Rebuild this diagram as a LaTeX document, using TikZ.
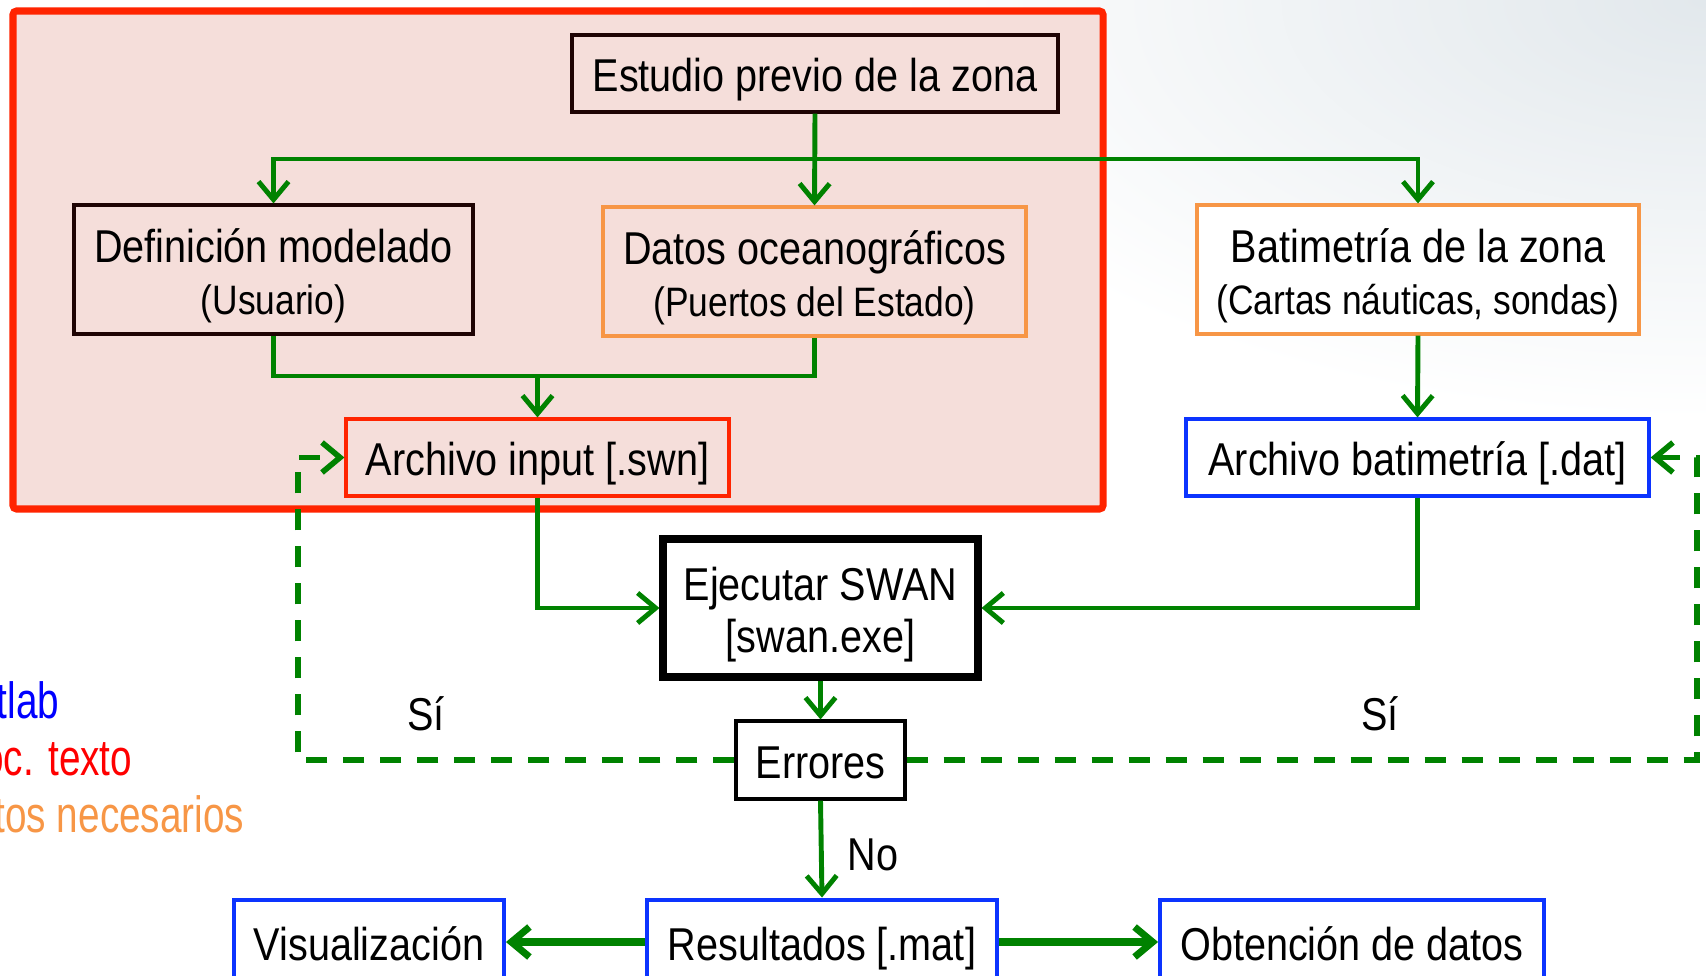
\documentclass[tikz,border=0pt]{standalone}
\usepackage{fontspec}
\setmainfont[FakeStretch=0.86]{Liberation Sans}
\newfontfamily\leyenda[FakeStretch=0.76]{Liberation Sans}
\usetikzlibrary{arrows.meta}

\definecolor{verde}{RGB}{0,130,0}
\definecolor{rojo}{RGB}{255,36,0}
\definecolor{naranja}{RGB}{247,150,70}
\definecolor{azul}{RGB}{12,52,255}
\definecolor{rosa}{RGB}{245,222,218}
\definecolor{negro}{RGB}{30,4,4}
\definecolor{niebla}{RGB}{226,232,236}

% struts para bajar el texto en las cajas
\newcommand\arriba{\rule{0pt}{1.05em}}
\newcommand\abajo{\rule[-0.25em]{0pt}{0pt}}
\newcommand\chica{\fontsize{11.7}{14}\selectfont}

\tikzset{
  caja/.style={draw=negro, line width=0.9pt, inner sep=0pt, align=center,
    font=\fontsize{13.1}{14.8}\selectfont},
  texto/.style={inner sep=0pt, text=black, font=\fontsize{13.1}{14.8}\selectfont},
  ley/.style={inner sep=0pt, anchor=base east, font=\leyenda\fontsize{14.5}{16}\selectfont},
  linea/.style={verde, line width=1.4pt},
  flecha/.style={linea, -{Straight Barb[length=1.8mm,width=3mm]}},
  discont/.style={flecha, line width=1.6pt, dash pattern=on 2.1mm off 1.6mm},
}

\begin{document}
\begin{tikzpicture}[y=-1cm]
  \useasboundingbox (0,0) rectangle (17.06,9.76);

  % fondo
  \begin{scope}
    \clip (9,0) rectangle (17.06,4.5);
    \shade[inner color=niebla, outer color=white] (17.06,0) ellipse (8.5 and 4.2);
  \end{scope}
  \draw[rojo, line width=2pt, fill=rosa, rounded corners=1pt] (0.13,0.11) rectangle (11.03,5.09);

  % cajas
  \node[caja, fill=rosa, minimum width=4.86cm, minimum height=0.77cm] (estudio) at (8.15,0.735) {\arriba Estudio previo de la zona\abajo};
  \node[caja, fill=rosa, minimum width=3.99cm, minimum height=1.29cm] (definicion) at (2.735,2.695) {\arriba Definición modelado\\{\chica (Usuario)\abajo}};
  \node[caja, draw=naranja, fill=rosa, minimum width=4.23cm, minimum height=1.29cm] (datos) at (8.145,2.715) {\arriba Datos oceanográficos\\{\chica (Puertos del Estado)\abajo}};
  \node[caja, draw=naranja, fill=white, minimum width=4.42cm, minimum height=1.29cm] (batimetria) at (14.18,2.695) {\arriba Batimetría de la zona\\{\chica (Cartas náuticas, sondas)\abajo}};
  \node[caja, draw=rojo, fill=rosa, minimum width=3.83cm, minimum height=0.77cm] (input) at (5.375,4.575) {\arriba Archivo input [.swn]\abajo};
  \node[caja, draw=azul, fill=white, minimum width=4.63cm, minimum height=0.77cm] (batdat) at (14.175,4.575) {\arriba Archivo batimetría [.dat]\abajo};
  \node[caja, draw=black, line width=2pt, fill=white, minimum width=3.15cm, minimum height=1.38cm] (swan) at (8.205,6.08) {\arriba Ejecutar SWAN\\{[swan.exe]\abajo}};
  \node[caja, draw=black, fill=white, minimum width=1.69cm, minimum height=0.78cm] (errores) at (8.205,7.60) {\arriba Errores\abajo};
  \node[caja, draw=azul, line width=1.4pt, fill=white, minimum width=3.50cm, minimum height=0.84cm] (resultados) at (8.22,9.42) {\arriba Resultados [.mat]\abajo};
  \node[caja, draw=azul, line width=1.1pt, fill=white, minimum width=2.70cm, minimum height=0.84cm] (visual) at (3.69,9.42) {\arriba Visualización\abajo};
  \node[caja, draw=azul, line width=1.1pt, fill=white, minimum width=3.84cm, minimum height=0.84cm] (obtencion) at (13.52,9.42) {\arriba Obtención de datos\abajo};

  % leyenda (cortada por el borde)
  \node[ley, text=blue] (leymat) at (0.60,7.18) {tlab};
  \node[ley, text=red] (leydoc) at (1.33,7.75) {oc. texto};
  \node[ley, text=naranja] (leydat) at (2.45,8.32) {tos necesarios};

  \node[texto] (si1) at (4.26,7.14) {Sí};
  \node[texto] (si2) at (13.80,7.14) {Sí};

  % conexiones
  \coordinate (rama) at (8.15,1.59);
  \coordinate (junta) at (5.375,3.76);
  \coordinate (vueltaI) at (2.98,4.575);
  \coordinate (vueltaD) at (16.97,4.575);

  \draw[flecha] (estudio.south) -- (datos.north);
  \draw[flecha] (rama) -| (definicion.north);
  \draw[flecha] (rama) -| (batimetria.north);
  \draw[linea] (definicion.south) -- (definicion.south |- junta) -- (datos.south |- junta) -- (datos.south);
  \draw[flecha] (junta) -- (input.north);
  \draw[flecha] (batimetria.south) -- (batdat.north);
  \draw[flecha] (input.south) |- (swan.west);
  \draw[flecha] (batdat.south) |- (swan.east);
  \draw[flecha] (swan.south) -- (errores.north);
  \draw[flecha] (errores.south) -- node[texto, right=0.24cm, pos=0.56] (no) {No} (resultados.north);
  \draw[flecha, line width=2pt] (resultados.west) -- (visual.east);
  \draw[flecha, line width=2pt] (resultados.east) -- (obtencion.west);
  \draw[discont] (errores.west) -| (vueltaI) -- (input.west);
  \draw[discont] (errores.east) -| (vueltaD) -- (batdat.east);
\end{tikzpicture}
\end{document}
